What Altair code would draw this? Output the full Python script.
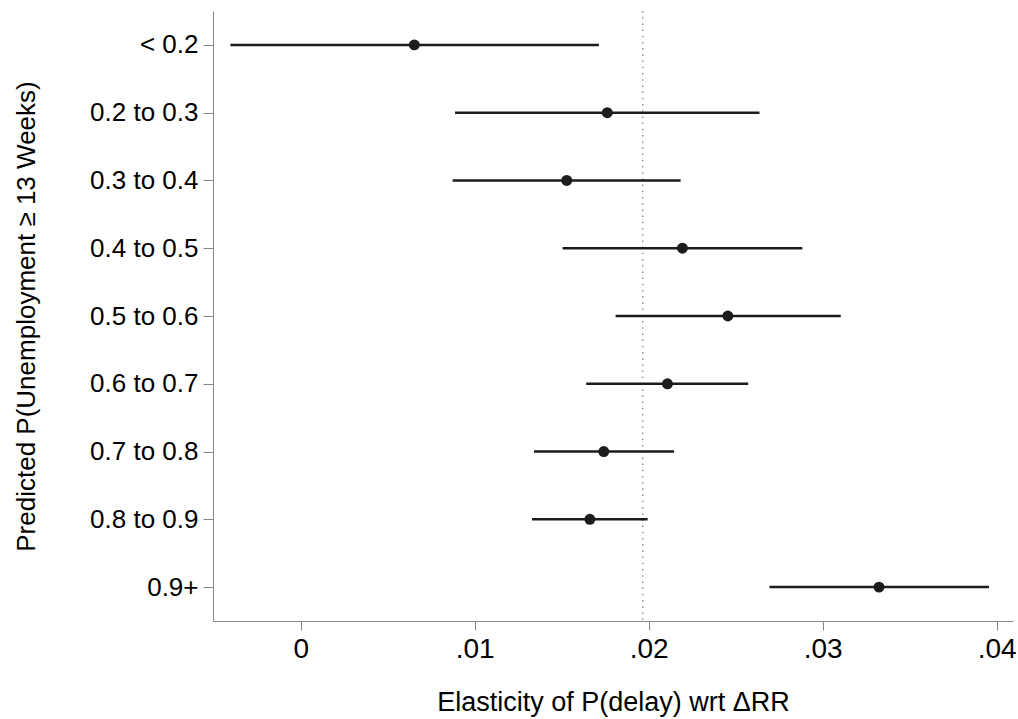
import altair as alt
import pandas as pd

# Groups of predicted long-term unemployment probability (top to bottom)
groups = ["< 0.2", "0.2 to 0.3", "0.3 to 0.4", "0.4 to 0.5", "0.5 to 0.6",
          "0.6 to 0.7", "0.7 to 0.8", "0.8 to 0.9", "0.9+"]
# Point estimates and confidence bounds of the elasticity
estimate = [0.00653, 0.01762, 0.01529, 0.02194, 0.02455, 0.02108, 0.01742, 0.01662, 0.03324]
ci_low = [-0.00404, 0.00887, 0.00873, 0.01505, 0.01810, 0.01641, 0.01341, 0.01330, 0.02694]
ci_high = [0.01714, 0.02637, 0.02184, 0.02883, 0.03104, 0.02572, 0.02146, 0.01994, 0.03956]
# Pooled elasticity shown as the reference line
pooled = [0.01966]
x_ticks = [0, 0.01, 0.02, 0.03, 0.04]

df = pd.DataFrame({"group": groups, "est": estimate, "lo": ci_low, "hi": ci_high})
ref = pd.DataFrame({"v": pooled})

FONT = "Liberation Sans"
INK = "#1c1c1c"

x_scale = alt.Scale(domain=[-0.00504, 0.04094], nice=False, zero=False)
y_scale = alt.Scale(type="point", padding=0.5, domain=groups)

x_axis = alt.Axis(
    values=x_ticks,
    labelExpr="datum.value == 0 ? '0' : substring(format(datum.value, '.2f'), 1)",
    title="Elasticity of P(delay) wrt \u0394RR",
    titleX=400, titleY=89, titleBaseline="alphabetic", titleAlign="center",
    titleFontWeight="normal",
    tickSize=9, labelPadding=5, labelFontSize=28, titleFontSize=27,
    grid=False,
)
y_axis = alt.Axis(
    title="Predicted P(Unemployment \u2265 13 Weeks)",
    titleX=-179, titleY=305, titleAngle=-90, titleBaseline="alphabetic",
    titleAlign="center", titleFontWeight="normal",
    tickSize=10, labelPadding=5, labelFontSize=26, titleFontSize=26,
    grid=False,
)

ci = alt.Chart(df).mark_rule(color=INK, strokeWidth=2.5).encode(
    x=alt.X("lo:Q", scale=x_scale, axis=x_axis),
    x2="hi:Q",
    y=alt.Y("group:O", scale=y_scale, axis=y_axis, sort=groups),
)

pts = alt.Chart(df).mark_point(filled=True, opacity=1, color=INK, size=120, shape="circle").encode(
    x=alt.X("est:Q", scale=x_scale),
    y=alt.Y("group:O", scale=y_scale, sort=groups),
)

vline = alt.Chart(ref).mark_rule(color="#7a7a7a", strokeWidth=1.2, strokeDash=[1.5, 4.7]).encode(
    x=alt.X("v:Q", scale=x_scale),
)

chart = (
    alt.layer(vline, ci, pts)
    .properties(width=800, height=610, padding={"left": 213, "top": 11, "right": 5, "bottom": 98},
                autosize=alt.AutoSizeParams(type="none"),
                view=alt.ViewBackground(stroke="transparent", strokeWidth=0))
    .configure_view(strokeWidth=0, stroke="transparent", strokeOpacity=0)
    .configure_axis(
        labelFont=FONT, titleFont=FONT, labelColor=INK, titleColor=INK,
        titleFontWeight="normal", domainColor=INK, tickColor=INK,
        domainWidth=1.2, tickWidth=1.2,
    )
    .configure(background="white")
)

chart.save("out.html", embed_options={"renderer": "svg", "actions": False})
